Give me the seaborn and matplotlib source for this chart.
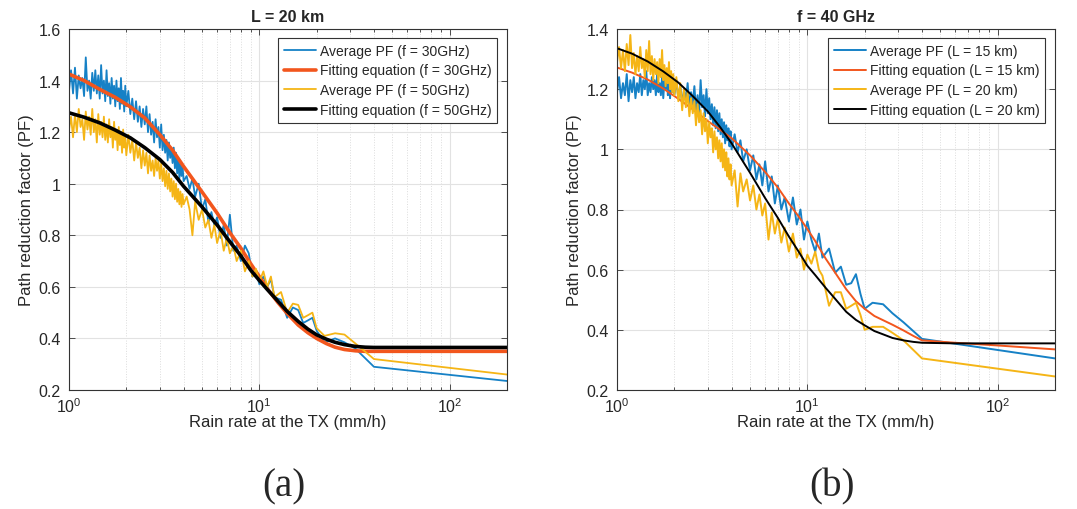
import matplotlib
matplotlib.use("Agg")
import pandas as pd
import matplotlib.pyplot as plt
import seaborn as sns
from matplotlib.ticker import FuncFormatter, LogLocator

# --- data ---
rate_fine = [1.000, 1.025, 1.050, 1.075, 1.100, 1.125, 1.150, 1.175, 1.200, 1.225,
             1.250, 1.275, 1.300, 1.325, 1.350, 1.375, 1.400, 1.425, 1.450, 1.475,
             1.500, 1.525, 1.550, 1.575, 1.600, 1.625, 1.650, 1.675, 1.700, 1.725,
             1.750, 1.775, 1.800, 1.825, 1.850, 1.875, 1.900, 1.925, 1.950, 1.975,
             2.000]
rate_mid = [2.05, 2.10, 2.15, 2.20, 2.25, 2.30, 2.35, 2.40, 2.45, 2.50,
            2.55, 2.60, 2.65, 2.70, 2.75, 2.80, 2.85, 2.90, 2.95, 3.00,
            3.05, 3.10, 3.15, 3.20, 3.25, 3.30, 3.35, 3.40, 3.45, 3.50,
            3.55, 3.60, 3.65, 3.70, 3.75, 3.80, 3.85, 3.90, 3.95, 4.00]
rate_coarse = [4.15, 4.30, 4.45, 4.60, 4.80, 5.00, 5.20, 5.40, 5.60, 5.80,
               6.00, 6.25, 6.50, 6.75, 7.00, 7.30, 7.60, 8.00, 8.40, 8.80,
               9.20, 9.60, 10.0,
               10.5, 11, 11.5, 12, 13, 14, 15, 16, 17, 18, 19, 20,
               22, 25, 28, 32, 40, 200]

# (a) L = 20 km
pf30_fine = [1.36, 1.44, 1.35, 1.45, 1.33, 1.42, 1.37, 1.41, 1.34, 1.49,
             1.36, 1.40, 1.33, 1.43, 1.36, 1.44, 1.35, 1.42, 1.33, 1.46,
             1.35, 1.40, 1.32, 1.44, 1.34, 1.39, 1.31, 1.41, 1.33, 1.38,
             1.30, 1.40, 1.32, 1.37, 1.29, 1.41, 1.31, 1.36, 1.28, 1.38,
             1.30]
pf30_mid = [1.36, 1.27, 1.33, 1.25, 1.32, 1.24, 1.30, 1.22, 1.29, 1.23,
            1.30, 1.20, 1.27, 1.19, 1.24, 1.16, 1.25, 1.18, 1.22, 1.14,
            1.23, 1.13, 1.19, 1.12, 1.17, 1.09, 1.16, 1.10, 1.14, 1.08,
            1.14, 1.06, 1.12, 1.04, 1.10, 1.02, 1.08, 1.03, 1.07, 1.01]
pf30_coarse = [1.03, 0.98, 1.02, 0.95, 1.00, 0.90, 0.94, 0.85, 0.89, 0.84,
               0.87, 0.79, 0.84, 0.76, 0.88, 0.74, 0.76, 0.70, 0.76, 0.73,
               0.64, 0.66, 0.61,
               0.64, 0.60, 0.63, 0.56, 0.55, 0.48, 0.52, 0.51, 0.46, 0.47, 0.48, 0.43,
               0.385, 0.40, 0.385, 0.36, 0.29, 0.235]

pf50_fine = [1.21, 1.26, 1.18, 1.27, 1.20, 1.29, 1.22, 1.25, 1.17, 1.28,
             1.21, 1.26, 1.19, 1.29, 1.20, 1.25, 1.16, 1.27, 1.19, 1.24,
             1.18, 1.26, 1.17, 1.23, 1.16, 1.25, 1.18, 1.22, 1.14, 1.24,
             1.17, 1.21, 1.13, 1.22, 1.15, 1.20, 1.12, 1.21, 1.14, 1.18,
             1.11]
pf50_mid = [1.19, 1.12, 1.17, 1.09, 1.16, 1.10, 1.14, 1.06, 1.13, 1.07,
            1.12, 1.04, 1.11, 1.05, 1.09, 1.03, 1.10, 1.05, 1.09, 1.02,
            1.08, 1.01, 1.06, 0.99, 1.05, 0.98, 1.04, 0.97, 1.02, 0.95,
            1.01, 0.94, 1.00, 0.93, 0.98, 0.92, 0.97, 0.91, 0.96, 0.92]
pf50_coarse = [0.95, 0.90, 0.80, 0.93, 0.86, 0.90, 0.83, 0.86, 0.79, 0.84,
               0.77, 0.82, 0.74, 0.79, 0.73, 0.76, 0.70, 0.74, 0.66, 0.70,
               0.64, 0.67, 0.62,
               0.66, 0.60, 0.64, 0.56, 0.58, 0.50, 0.535, 0.53, 0.48, 0.49, 0.50, 0.44,
               0.41, 0.42, 0.415, 0.38, 0.32, 0.26]

# (b) f = 40 GHz
pf15_fine = [1.19, 1.24, 1.17, 1.22, 1.18, 1.25, 1.16, 1.23, 1.19, 1.24,
             1.17, 1.22, 1.19, 1.25, 1.18, 1.23, 1.20, 1.26, 1.18, 1.22,
             1.19, 1.24, 1.20, 1.23, 1.18, 1.25, 1.19, 1.22, 1.18, 1.24,
             1.17, 1.23, 1.20, 1.26, 1.18, 1.22, 1.17, 1.24, 1.19, 1.23,
             1.18]
pf15_mid = [1.23, 1.17, 1.21, 1.15, 1.20, 1.16, 1.22, 1.14, 1.19, 1.15,
            1.21, 1.13, 1.18, 1.12, 1.23, 1.14, 1.18, 1.11, 1.20, 1.12,
            1.17, 1.10, 1.15, 1.08, 1.14, 1.07, 1.13, 1.06, 1.12, 1.05,
            1.10, 1.04, 1.09, 1.02, 1.08, 1.03, 1.07, 1.01, 1.06, 1.00]
pf15_coarse = [1.05, 0.99, 1.03, 0.96, 1.00, 0.93, 0.98, 0.90, 0.95, 0.88,
               0.96, 0.86, 0.91, 0.82, 0.88, 0.80, 0.84, 0.76, 0.84, 0.75,
               0.80, 0.70, 0.76,
               0.70, 0.66, 0.72, 0.64, 0.67, 0.59, 0.61, 0.55, 0.555, 0.585, 0.52, 0.47,
               0.49, 0.485, 0.455, 0.425, 0.37, 0.305]

pf20_fine = [1.29, 1.34, 1.27, 1.33, 1.26, 1.35, 1.28, 1.38, 1.27, 1.32,
             1.25, 1.31, 1.26, 1.34, 1.27, 1.30, 1.24, 1.33, 1.26, 1.36,
             1.25, 1.31, 1.23, 1.30, 1.25, 1.29, 1.22, 1.30, 1.24, 1.33,
             1.23, 1.28, 1.21, 1.27, 1.22, 1.29, 1.20, 1.26, 1.19, 1.25,
             1.18]
pf20_mid = [1.24, 1.16, 1.22, 1.13, 1.20, 1.14, 1.19, 1.11, 1.17, 1.12,
            1.16, 1.08, 1.15, 1.09, 1.13, 1.05, 1.12, 1.06, 1.10, 1.02,
            1.09, 1.04, 1.07, 0.99, 1.06, 1.00, 1.04, 0.97, 1.03, 0.96,
            1.02, 0.94, 1.00, 0.93, 0.99, 0.91, 0.97, 0.90, 0.95, 0.88]
pf20_coarse = [0.93, 0.81, 0.92, 0.86, 0.90, 0.83, 0.88, 0.80, 0.85, 0.78,
               0.82, 0.70, 0.79, 0.72, 0.77, 0.69, 0.74, 0.66, 0.72, 0.64,
               0.67, 0.60, 0.65,
               0.62, 0.66, 0.60, 0.58, 0.48, 0.525, 0.525, 0.47, 0.48, 0.49, 0.45, 0.40,
               0.41, 0.41, 0.39, 0.365, 0.305, 0.245]

# fitting equations
fit_rate = [1, 1.2, 1.45, 1.75, 2.1, 2.5, 3, 3.5, 4,
            5, 6, 7, 8, 9, 10, 11,
            12.5, 14, 16, 18, 20,
            22.5, 25, 28, 32, 36, 40,
            60, 100, 200]
fit30 = [1.425, 1.40, 1.366, 1.335, 1.298, 1.255, 1.19, 1.13, 1.067,
         0.968, 0.886, 0.81, 0.75, 0.69, 0.64, 0.594,
         0.54, 0.497, 0.452, 0.422, 0.40,
         0.38, 0.366, 0.357, 0.352, 0.350, 0.350,
         0.350, 0.350, 0.350]
fit50 = [1.275, 1.258, 1.236, 1.208, 1.178, 1.14, 1.094, 1.044, 0.99,
         0.91, 0.84, 0.775, 0.72, 0.665, 0.625, 0.59,
         0.545, 0.505, 0.466, 0.436, 0.414,
         0.397, 0.385, 0.376, 0.369, 0.366, 0.365,
         0.365, 0.365, 0.365]
fit15 = [1.272, 1.255, 1.232, 1.202, 1.168, 1.133, 1.094, 1.064, 1.037,
         0.98, 0.925, 0.873, 0.82, 0.777, 0.735, 0.695,
         0.636, 0.59, 0.535, 0.495, 0.47,
         0.446, 0.432, 0.417, 0.398, 0.38, 0.365,
         0.357, 0.348, 0.335]
fit20 = [1.336, 1.318, 1.292, 1.259, 1.222, 1.177, 1.126, 1.072, 1.02,
         0.922, 0.838, 0.772, 0.71, 0.66, 0.613, 0.582,
         0.539, 0.503, 0.46, 0.433, 0.415,
         0.396, 0.385, 0.373, 0.365, 0.36, 0.357,
         0.355, 0.355, 0.355]

avg = pd.DataFrame({
    "rate": rate_fine + rate_mid + rate_coarse,
    "pf30": pf30_fine + pf30_mid + pf30_coarse,
    "pf50": pf50_fine + pf50_mid + pf50_coarse,
    "pf15": pf15_fine + pf15_mid + pf15_coarse,
    "pf20": pf20_fine + pf20_mid + pf20_coarse,
})
fit = pd.DataFrame({"rate": fit_rate, "fit30": fit30, "fit50": fit50,
                    "fit15": fit15, "fit20": fit20})

# --- style ---
sns.set_style("whitegrid")
plt.rcParams['font.family'] = ['Liberation Sans', 'DejaVu Sans']
plt.rcParams['mathtext.fontset'] = 'custom'
plt.rcParams['mathtext.rm'] = 'Liberation Sans'
plt.rcParams['mathtext.it'] = 'Liberation Sans:italic'

BLUE = "#1681C6"
ORANGE = "#F2561D"
YELLOW = "#F5B516"
BLACK = "#000000"

fig = plt.figure(figsize=(10.77, 5.10), dpi=100)
W, H = 1077, 510
axL = fig.add_axes([69 / W, 1 - 391 / H, 438 / W, 361 / H])
axR = fig.add_axes([617 / W, 1 - 391 / H, 438 / W, 361 / H])


def draw(ax, series, title, ylim, yticks):
    for col, src, color, lw, label in series:
        sns.lineplot(data=src, x="rate", y=col, ax=ax, color=color, lw=lw,
                     label=label, sort=False, estimator=None)
    ax.set_xscale("log")
    ax.set_xlim(1, 200)
    ax.set_ylim(*ylim)
    ax.set_yticks(yticks)
    ax.yaxis.set_major_formatter(FuncFormatter(lambda v, p: "%g" % round(v, 2)))
    ax.xaxis.set_minor_locator(LogLocator(base=10, subs=range(2, 10), numticks=20))
    ax.grid(which="major", color="#e2e2e2", lw=0.8, ls="-")
    ax.grid(which="minor", axis="x", color="#dcdcdc", lw=0.7, ls=":")
    ax.tick_params(which="both", direction="in", top=True, right=True,
                   bottom=True, left=True, color="#333333", width=0.6,
                   labelsize=11.5, labelcolor="#262626")
    ax.tick_params(axis="y", pad=6)
    ax.tick_params(axis="x", pad=4.5)
    ax.tick_params(which="major", length=4)
    ax.tick_params(which="minor", length=2)
    for s in ax.spines.values():
        s.set_color("#333333")
        s.set_linewidth(0.8)
    ax.set_title(title, fontsize=11.5, fontweight="bold", pad=6)
    ax.set_xlabel("Rain rate at the TX (mm/h)", fontsize=12, color="#262626",
                  labelpad=-1)
    ax.set_ylabel("Path reduction factor (PF)", fontsize=12, color="#262626",
                  labelpad=3)
    leg = ax.legend(loc="upper right", bbox_to_anchor=(1 - 10 / 438, 1 - 9 / 361),
                    borderaxespad=0, fontsize=10, frameon=True, fancybox=False,
                    framealpha=1, edgecolor="#333333", handlelength=2.3,
                    handletextpad=0.3, borderpad=0.4, labelspacing=0.42)
    leg.get_frame().set_linewidth(0.8)


draw(axL, [("pf30", avg, BLUE, 1.3, "Average PF (f = 30GHz)"),
           ("fit30", fit, ORANGE, 2.6, "Fitting equation (f = 30GHz)"),
           ("pf50", avg, YELLOW, 1.3, "Average PF (f = 50GHz)"),
           ("fit50", fit, BLACK, 2.6, "Fitting equation (f = 50GHz)")],
     "L = 20 km", (0.2, 1.6), [0.2, 0.4, 0.6, 0.8, 1.0, 1.2, 1.4, 1.6])

draw(axR, [("pf15", avg, BLUE, 1.4, "Average PF (L = 15 km)"),
           ("fit15", fit, ORANGE, 1.4, "Fitting equation (L = 15 km)"),
           ("pf20", avg, YELLOW, 1.4, "Average PF (L = 20 km)"),
           ("fit20", fit, BLACK, 1.4, "Fitting equation (L = 20 km)")],
     "f = 40 GHz", (0.2, 1.4), [0.2, 0.4, 0.6, 0.8, 1.0, 1.2, 1.4])

fig.text(284 / W, 1 - 487 / H, "(a)", ha="center", va="center",
         fontsize=28, family="Liberation Serif")
fig.text(832 / W, 1 - 487 / H, "(b)", ha="center", va="center",
         fontsize=28, family="Liberation Serif")

fig.savefig("out.png", dpi=100)
